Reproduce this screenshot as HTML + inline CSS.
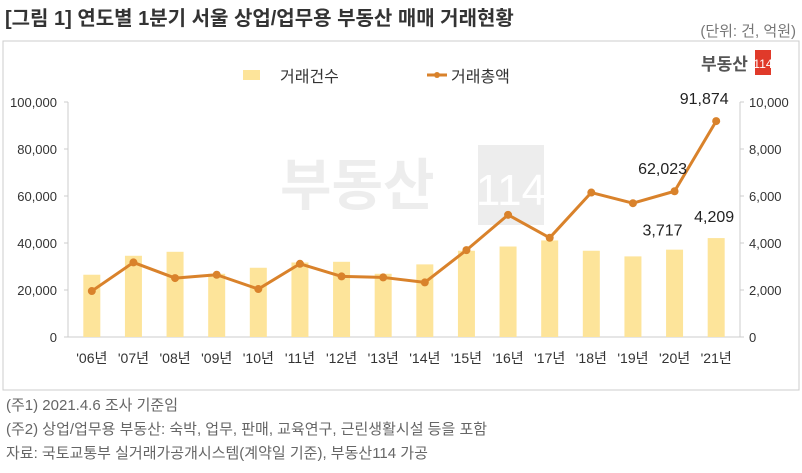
<!DOCTYPE html>
<html><head><meta charset="utf-8"><style>
body{margin:0;background:#fff;width:802px;height:468px;overflow:hidden;font-family:"Liberation Sans","Noto Sans CJK KR",sans-serif;}
svg text{font-family:"Liberation Sans","Noto Sans CJK KR",sans-serif;}
</style></head><body>
<svg width="802" height="468">
<text x="5" y="25" font-size="20" font-weight="bold" fill="#333">[그림 1] 연도별 1분기 서울 상업/업무용 부동산 매매 거래현황</text>
<text x="796" y="36" font-size="15" fill="#777" text-anchor="end">(단위: 건, 억원)</text>
<rect x="3" y="41" width="796" height="349" fill="none" stroke="#ccc"/>
<g><text x="701" y="70" font-size="17" font-weight="bold" fill="#555">부동산</text><rect x="755" y="50" width="16" height="25" fill="#e03a2a"/><text x="763" y="68" font-size="12" fill="#fff" text-anchor="middle">114</text></g>
<g opacity="0.5"><text x="280" y="205" font-size="56" font-weight="bold" fill="#ddd">부동산</text><rect x="478" y="145" width="66" height="80" fill="#ddd"/><text x="511" y="205" font-size="44" fill="#fff" text-anchor="middle">114</text></g>
<g>
<rect x="243" y="70" width="17" height="10" fill="#fde49a"/>
<text x="280" y="82" font-size="16" fill="#333">거래건수</text>
<line x1="427" y1="75" x2="447" y2="75" stroke="#d9822b" stroke-width="3"/>
<circle cx="437" cy="75" r="3" fill="#d9822b"/>
<text x="451" y="82" font-size="16" fill="#333">거래총액</text>
</g>
<g id="plot"></g>
<text x="6" y="410" font-size="15" fill="#666">(주1) 2021.4.6 조사 기준임</text>
<text x="6" y="434" font-size="15" fill="#666">(주2) 상업/업무용 부동산: 숙박, 업무, 판매, 교육연구, 근린생활시설 등을 포함</text>
<text x="6" y="458" font-size="15" fill="#666">자료: 국토교통부 실거래가공개시스템(계약일 기준), 부동산114 가공</text>
</svg>
<script>
const categories=["'06년","'07년","'08년","'09년","'10년","'11년","'12년","'13년","'14년","'15년","'16년","'17년","'18년","'19년","'20년","'21년"];
const counts=[2650,3456,3626,2690,2946,3170,3200,2690,3090,3670,3850,4110,3670,3430,3717,4209];
const amounts=[19550,31730,25070,26490,20400,31160,25780,25350,23230,36970,51980,42210,61470,56940,62023,91874];
const leftTicks=[0,20000,40000,60000,80000,100000];
const rightTicks=[0,2000,4000,6000,8000,10000];
const NS="http://www.w3.org/2000/svg",g=document.getElementById('plot');
const x0=71,x1=737,y0=337,y1=102,step=(x1-x0)/categories.length;
const xc=i=>x0+step*(i+0.5);
const yL=v=>y0-(v/100000)*(y0-y1);
const yR=v=>y0-(v/10000)*(y0-y1);
function mk(t,a,p){const e=document.createElementNS(NS,t);for(const k in a)e.setAttribute(k,a[k]);(p||g).appendChild(e);return e;}
let e;
e=mk('line',{x1:x0-3,y1:y1,x2:x0-3,y2:y0,stroke:'#ccc'});


e=mk('line',{x1:x1+3,y1:y1,x2:x1+3,y2:y0,stroke:'#ccc'});


e=mk('line',{x1:x0-3,y1:y0,x2:x1+3,y2:y0,stroke:'#ccc'});


leftTicks.forEach(v=>{e=mk('text',{x:x0-14,y:yL(v)+5,'font-size':13,fill:'#333','text-anchor':'end'});e.textContent=v.toLocaleString('en-US');


mk('line',{x1:x0-7,x2:x0-3,y1:yL(v),y2:yL(v),stroke:'#ccc'});});
rightTicks.forEach(v=>{e=mk('text',{x:x1+12,y:yR(v)+5,'font-size':13,fill:'#333'});e.textContent=v.toLocaleString('en-US');


mk('line',{x1:x1+3,x2:x1+7,y1:yR(v),y2:yR(v),stroke:'#ccc'});});
categories.forEach((c,i)=>{e=mk('text',{x:xc(i),y:363,'font-size':14,fill:'#333','text-anchor':'middle'});e.textContent=c;

});
counts.forEach((v,i)=>{e=mk('rect',{x:xc(i)-8.5,y:yR(v),width:17,height:y0-yR(v),fill:'#fde49a'});

});
e=mk('polyline',{points:amounts.map((v,i)=>xc(i)+','+yL(v)).join(' '),fill:'none',stroke:'#d9822b','stroke-width':3,'stroke-linejoin':'round'});


amounts.forEach((v,i)=>{e=mk('circle',{cx:xc(i),cy:yL(v),r:4,fill:'#d9822b'});

});
[14,15].forEach(i=>{e=mk('text',{x:xc(i)-12,y:yL(amounts[i])-17,'font-size':16,fill:'#222','text-anchor':'middle'});e.textContent=amounts[i].toLocaleString('en-US');


e=mk('text',{x:xc(i)-12+(i==15?10:0),y:yR(counts[i])-(i==15?16:14),'font-size':16,fill:'#222','text-anchor':'middle'});e.textContent=counts[i].toLocaleString('en-US');

});
</script>
</body></html>
